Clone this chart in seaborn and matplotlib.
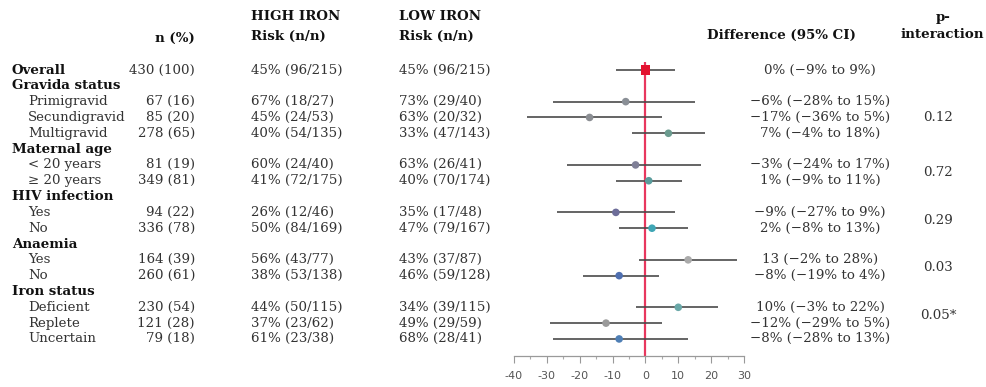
import matplotlib
matplotlib.use("Agg")
import matplotlib.pyplot as plt
import matplotlib.transforms as mtransforms
import numpy as np
import pandas as pd
import seaborn as sns

# ---- table content -------------------------------------------------------
categories = ["Overall", "Gravida status", "Primigravid", "Secundigravid",
              "Multigravid", "Maternal age", "< 20 years", "\u2265 20 years",
              "HIV infection", "Yes", "No", "Anaemia", "Yes", "No",
              "Iron status", "Deficient", "Replete", "Uncertain"]
is_heading = [True, True, False, False, False, True, False, False,
              True, False, False, True, False, False, True, False, False, False]
n_pct = ["430 (100)", "", "67 (16)", "85 (20)", "278 (65)", "", "81 (19)",
         "349 (81)", "", "94 (22)", "336 (78)", "", "164 (39)", "260 (61)",
         "", "230 (54)", "121 (28)", "79 (18)"]
high_iron = ["45% (96/215)", "", "67% (18/27)", "45% (24/53)", "40% (54/135)",
             "", "60% (24/40)", "41% (72/175)", "", "26% (12/46)",
             "50% (84/169)", "", "56% (43/77)", "38% (53/138)", "",
             "44% (50/115)", "37% (23/62)", "61% (23/38)"]
low_iron = ["45% (96/215)", "", "73% (29/40)", "63% (20/32)", "33% (47/143)",
            "", "63% (26/41)", "40% (70/174)", "", "35% (17/48)",
            "47% (79/167)", "", "43% (37/87)", "46% (59/128)", "",
            "34% (39/115)", "49% (29/59)", "68% (28/41)"]
difference = [0, None, -6, -17, 7, None, -3, 1, None, -9, 2, None, 13, -8,
              None, 10, -12, -8]
ci_lower = [-9, None, -28, -36, -4, None, -24, -9, None, -27, -8, None, -2,
            -19, None, -3, -29, -28]
ci_upper = [9, None, 15, 5, 18, None, 17, 11, None, 9, 13, None, 28, 4,
            None, 22, 5, 13]
difference_text = ["0% (\u22129% to 9%)", "", "\u22126% (\u221228% to 15%)",
                   "\u221217% (\u221236% to 5%)", "7% (\u22124% to 18%)", "",
                   "\u22123% (\u221224% to 17%)", "1% (\u22129% to 11%)", "",
                   "\u22129% (\u221227% to 9%)", "2% (\u22128% to 13%)", "",
                   "13 (\u22122% to 28%)", "\u22128% (\u221219% to 4%)", "",
                   "10% (\u22123% to 22%)", "\u221212% (\u221229% to 5%)",
                   "\u22128% (\u221228% to 13%)"]
marker_colors = ["#e3122f", None, "#8a8f96", "#8b8e93", "#6b9b8f", None,
                 "#7f7f97", "#5a9c9c", None, "#6d6d99", "#3fa6b5", None,
                 "#aaaaaa", "#4f6fb0", None, "#6aa8a8", "#9a9a9a", "#4f7fb5"]
p_interaction = ["0.12", "0.72", "0.29", "0.03", "0.05*"]
p_row = [3.0, 6.5, 9.5, 12.5, 15.5]
x_ticks = [-40, -30, -20, -10, 0, 10, 20, 30]

# ---- figure --------------------------------------------------------------
W, H = 987, 387
sns.set_theme(style="white")
plt.rcParams["font.family"] = ["DejaVu Serif"]

fig = plt.figure(figsize=(W / 100, H / 100), dpi=100)
fig.patch.set_facecolor("white")

ax_left, ax_right, ax_top, ax_bottom = 514, 744, 62, 356
ax = fig.add_axes([ax_left / W, 1 - ax_bottom / H,
                   (ax_right - ax_left) / W, (ax_bottom - ax_top) / H])
row_step = 15.82
first_row_px = 70
ax.set_ylim((ax_bottom - first_row_px) / row_step,
            (ax_top - first_row_px) / row_step)
ax.set_xlim(-40, 30)

df = pd.DataFrame({"row": np.arange(len(categories)), "label": categories,
                   "diff": difference, "lo": ci_lower, "hi": ci_upper,
                   "color": marker_colors})
est = df.dropna(subset=["diff"]).copy()

# reference line at no difference
ax.axvline(0, color="#e8375e", lw=1.6, zorder=1)

# confidence intervals
ax.hlines(est["row"], est["lo"], est["hi"], color="#4a4a4a", lw=1.2, zorder=2)

# point estimates
overall = est[est["row"] == 0]
subgroups = est[est["row"] != 0]
sns.scatterplot(data=subgroups, x="diff", y="row", hue="row",
                palette=dict(zip(subgroups["row"], subgroups["color"])),
                marker="o", s=30, edgecolor="none", legend=False, ax=ax,
                zorder=3)
sns.scatterplot(data=overall, x="diff", y="row", color=overall["color"].iloc[0],
                marker="s", s=45, edgecolor="none", legend=False, ax=ax,
                zorder=3)

ax.set_xlabel("")
ax.set_ylabel("")
ax.set_yticks([])
ax.set_xticks(x_ticks)
ax.set_xticks(np.arange(-35, 30, 10), minor=True)
ax.set_xticklabels([str(t) for t in x_ticks], family="DejaVu Sans",
                   fontsize=8, color="#555555")
ax.tick_params(axis="x", which="major", length=5, width=0.8, color="#999999",
               pad=6, bottom=True)
ax.tick_params(axis="x", which="minor", length=2.5, width=0.8,
               color="#aaaaaa", bottom=True)
for side in ["top", "left", "right"]:
    ax.spines[side].set_visible(False)
ax.spines["bottom"].set_color("#9a9a9a")
ax.spines["bottom"].set_linewidth(0.9)
ax.patch.set_alpha(0)

# ---- text columns --------------------------------------------------------
trans = mtransforms.blended_transform_factory(fig.transFigure, ax.transData)


def row_of(px_y):
    return (px_y - first_row_px) / row_step


def put(px_x, y, s, ha="left", bold=False, color="#333333", size=9.6):
    fig.text(px_x / W, y, s, transform=trans, ha=ha, va="center",
             fontsize=size, fontweight="bold" if bold else "normal",
             color="#111111" if bold else color)


# column headings
put(195, row_of(38), "n (%)", ha="right", bold=True)
put(251, row_of(16), "HIGH IRON", bold=True)
put(251, row_of(36), "Risk (n/n)", bold=True)
put(399, row_of(16), "LOW IRON", bold=True)
put(399, row_of(36), "Risk (n/n)", bold=True)
put(781, row_of(35), "Difference (95% CI)", ha="center", bold=True)
put(943, row_of(18), "p-", ha="center", bold=True)
put(942, row_of(35), "interaction", ha="center", bold=True)

for i, name in enumerate(categories):
    put(12 if is_heading[i] else 28, i, name, bold=is_heading[i])
    if n_pct[i]:
        put(195, i, n_pct[i], ha="right")
        put(251, i, high_iron[i])
        put(399, i, low_iron[i])
        put(820, i, difference_text[i], ha="center")

for p, r in zip(p_interaction, p_row):
    put(938, r, p, ha="center")

fig.savefig("out.png", dpi=100)
